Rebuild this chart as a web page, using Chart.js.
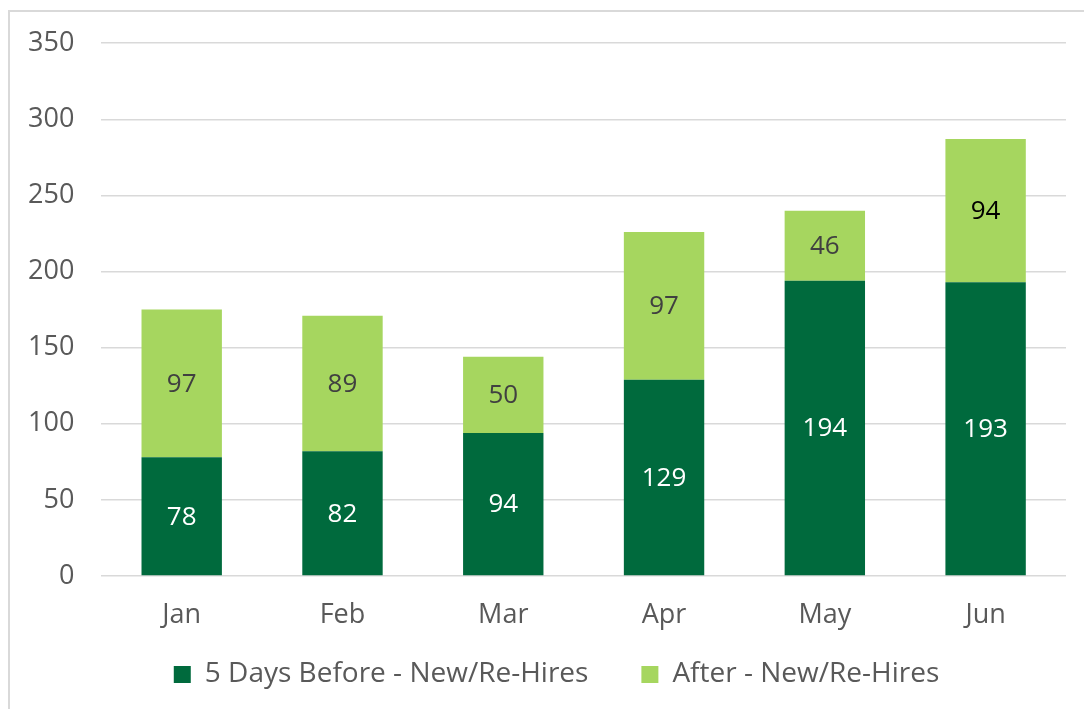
<html>
    <head>
        <script src="https://cdn.jsdelivr.net/npm/chart.js@4.4.0/dist/chart.umd.min.js"></script>
        <style>
            body { margin: 0; background: #fff; }
            #frame { position: absolute; left: 8px; top: 10px; width: 1100px; height: 720px; border-left: 2px solid #d9d9d9; border-top: 2px solid #d9d9d9; }
            #wrap { position: absolute; left: 0; top: 0; width: 1084px; height: 709px; }
        </style>
    </head>
    <body>
        <div id="frame"></div>
        <div id="wrap">
            <canvas id="hires"></canvas>
        </div>
        <script>
            const MONTHS = ["Jan", "Feb", "Mar", "Apr", "May", "Jun"];
            const BEFORE = [78, 82, 94, 129, 194, 193];
            const AFTER = [97, 89, 50, 97, 46, 94];
            const SERIES_NAMES = ["5 Days Before - New/Re-Hires", "After - New/Re-Hires"];

            // dark green, light green
            const COLOURS = ["#006a3d", "#a6d65f"];
            // label colours per series: white on dark, grey on light (Jun is black)
            const LABEL_COLOURS = [
                ["#ffffff", "#ffffff", "#ffffff", "#ffffff", "#ffffff", "#ffffff"],
                ["#404040", "#404040", "#404040", "#404040", "#404040", "#000000"]
            ];

            const FONT = "'Open Sans', sans-serif";
            const SIZE = 27;

            // simple inline label plugin, no datalabels available
            const barLabels = {
                id: "barLabels",
                afterDatasetsDraw(chart) {
                    const ctx = chart.ctx;
                    ctx.save();
                    ctx.font = "26px " + FONT;
                    ctx.textAlign = "center";
                    ctx.textBaseline = "middle";
                    chart.data.datasets.forEach((ds, i) => {
                        const meta = chart.getDatasetMeta(i);
                        meta.data.forEach((bar, j) => {
                            const c = bar.getCenterPoint();
                            ctx.fillStyle = LABEL_COLOURS[i][j];
                            ctx.fillText(String(ds.data[j]), c.x, c.y + 1);
                        });
                    });
                    ctx.restore();
                }
            };

            // legend in the original is centred a bit right of the canvas middle
            const legendShift = {
                id: "legendShift",
                afterLayout(chart) {
                    chart.legend.left += 23;
                    chart.legend.right += 23;
                }
            };

            const config = {
                type: "bar",
                data: {
                    labels: MONTHS,
                    datasets: [
                        { label: SERIES_NAMES[0], data: BEFORE, backgroundColor: COLOURS[0] },
                        { label: SERIES_NAMES[1], data: AFTER, backgroundColor: COLOURS[1] }
                    ]
                },
                options: {
                    responsive: true,
                    maintainAspectRatio: false,
                    animation: false,
                    layout: { padding: { left: 1, right: 18, top: 31, bottom: 10.5 } },
                    datasets: { bar: { barPercentage: 0.5, categoryPercentage: 1.0 } },
                    scales: {
                        x: {
                            stacked: true,
                            grid: { display: false, drawTicks: false },
                            border: { display: false },
                            // mirror stops the label clip; negative padding puts them back below the axis
                            ticks: { color: "#595959", font: { family: FONT, size: SIZE }, mirror: true, padding: -56, autoSkip: false },
                            // short axis box so the legend sits closer
                            afterFit: (scale) => { scale.height = 31.5; }
                        },
                        y: {
                            stacked: true,
                            min: 0,
                            max: 350,
                            ticks: { stepSize: 50, color: "#595959", font: { family: FONT, size: SIZE }, padding: 27 },
                            grid: { color: "#d9d9d9", lineWidth: 1.5, drawTicks: false },
                            border: { display: false }
                        }
                    },
                    plugins: {
                        tooltip: { enabled: false },
                        legend: {
                            position: "bottom",
                            labels: {
                                color: "#595959",
                                font: { family: FONT, size: 28 },
                                boxWidth: 17,
                                boxHeight: 17,
                                padding: 53
                            }
                        }
                    }
                },
                plugins: [barLabels, legendShift]
            };

            new Chart(document.getElementById("hires"), config);
        </script>
    </body>
</html>
